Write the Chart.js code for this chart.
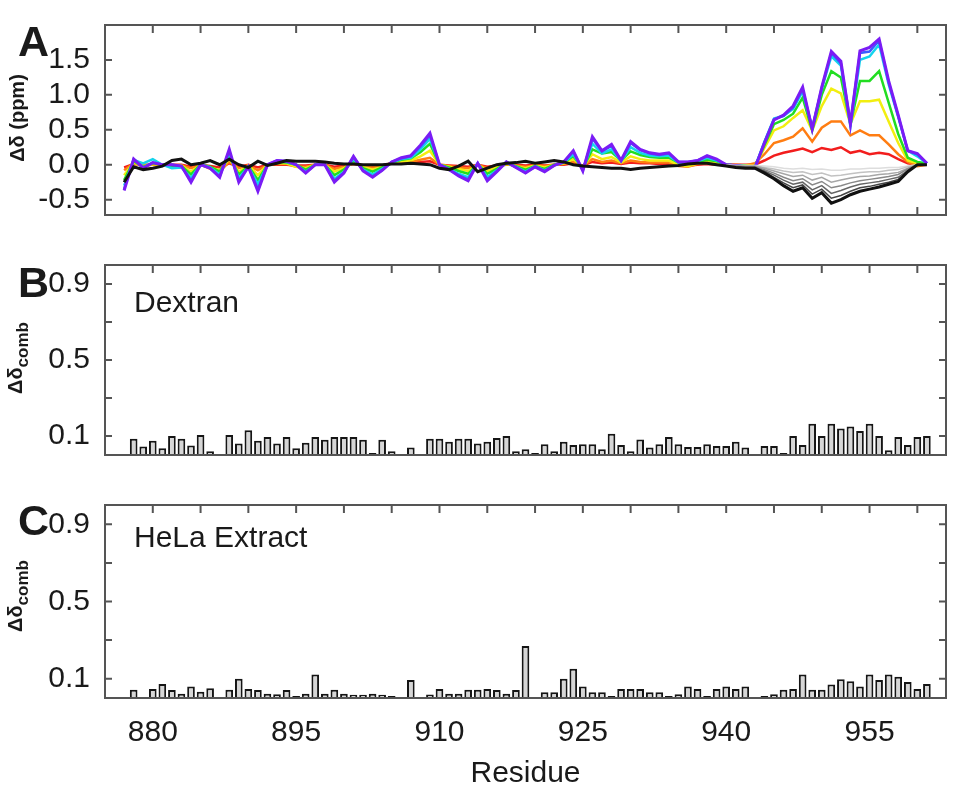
<!DOCTYPE html>
<html>
<head>
<meta charset="utf-8">
<script src="https://cdn.jsdelivr.net/npm/chart.js@4.4.1/dist/chart.umd.min.js"></script>
<style>
body { margin: 0; background: #fff; }
#wrap { position: relative; width: 954px; height: 786px; overflow: hidden; color: #1a1a1a;
        font-family: 'Liberation Sans Narrow', 'Liberation Sans', Arial, sans-serif; }
canvas { position: absolute; left: 0; }
.lbl { position: absolute; line-height: 1; white-space: nowrap; }
.panel { font-family: 'Liberation Sans', Arial, sans-serif; font-weight: bold; font-size: 43px; }
.ytitle { font-family: 'Liberation Sans', Arial, sans-serif; font-weight: bold; font-size: 20px;
          transform: translate(-50%, -50%) rotate(-90deg); }
.ytitle sub { font-size: 17px; vertical-align: -6px; }
.note { font-size: 30px; }
</style>
</head>
<body>
<div id="wrap">
  <canvas id="chartA" width="954" height="240" style="top:0"></canvas>
  <canvas id="chartB" width="954" height="240" style="top:240px"></canvas>
  <canvas id="chartC" width="954" height="306" style="top:480px"></canvas>

  <div class="lbl panel" style="left:18px;top:20px">A</div>
  <div class="lbl panel" style="left:18px;top:261px">B</div>
  <div class="lbl panel" style="left:18px;top:499px">C</div>

  <div class="lbl ytitle" style="left:17px;top:118px">Δδ (ppm)</div>
  <div class="lbl ytitle" style="left:18px;top:358px">Δδ<sub>comb</sub></div>
  <div class="lbl ytitle" style="left:18px;top:596px">Δδ<sub>comb</sub></div>

  <div class="lbl note" style="left:134px;top:287px">Dextran</div>
  <div class="lbl note" style="left:134px;top:522px">HeLa Extract</div>
</div>

<script>
// residues 877..961
const residues = Array.from({length: 85}, (_, i) => 877 + i);
const tailResidues = residues.slice(63); // 940..961

const residueTicks = [880, 885, 890, 895, 900, 905, 910, 915, 920, 925, 930, 935, 940, 945, 950, 955, 960];
const ppmTicks = [-0.5, 0.0, 0.5, 1.0, 1.5];
const combTicks = [0.1, 0.2, 0.3, 0.4, 0.5, 0.6, 0.7, 0.8, 0.9];
const combLabels = [0.1, 0.5, 0.9];

// ==========================
// Panel A: titration shifts
// ==========================
const purple = [
  -0.37, 0.08, -0.05, 0.03, 0.0, 0.0, -0.02, -0.25, 0.0, -0.05, -0.18,
  0.22, -0.25, -0.03, -0.38, 0.0, 0.06, 0.05, 0.0, -0.12, 0.0, 0.0,
  -0.25, -0.12, 0.12, -0.09, -0.18, -0.08, 0.04, 0.1, 0.13, 0.28, 0.45,
  0.0, -0.07, -0.16, -0.23, 0.02, -0.23, -0.1, 0.04, -0.04, -0.12, -0.03,
  -0.1, -0.01, 0.04, 0.2, -0.09, 0.4, 0.2, 0.29, 0.06, 0.33, 0.22,
  0.17, 0.15, 0.17, 0.04, 0.04, 0.06, 0.13, 0.08, 0.0, -0.01, -0.03,
  -0.05, 0.31, 0.64, 0.71, 0.84, 1.11, 0.51, 1.11, 1.62, 1.48, 0.58,
  1.63, 1.68, 1.8, 1.2, 0.71, 0.2, 0.16, 0.02
];
const blue = [
  -0.35, 0.08, -0.04, 0.03, 0.0, 0.0, -0.02, -0.23, 0.0, -0.05, -0.17,
  0.2, -0.23, -0.03, -0.35, 0.0, 0.06, 0.05, 0.0, -0.11, 0.0, 0.0,
  -0.23, -0.11, 0.11, -0.08, -0.17, -0.08, 0.04, 0.09, 0.12, 0.26, 0.42,
  0.0, -0.07, -0.15, -0.21, 0.02, -0.21, -0.09, 0.04, -0.04, -0.11, -0.03,
  -0.09, -0.01, 0.04, 0.19, -0.08, 0.37, 0.19, 0.27, 0.06, 0.31, 0.21,
  0.16, 0.14, 0.16, 0.04, 0.04, 0.06, 0.12, 0.07, 0.0, -0.01, -0.03,
  -0.04, 0.32, 0.65, 0.7, 0.82, 1.08, 0.52, 1.1, 1.6, 1.45, 0.6,
  1.6, 1.62, 1.78, 1.18, 0.7, 0.2, 0.15, 0.02
];
const cyan = [
  -0.3, 0.07, 0.02, 0.08, 0.0, -0.05, -0.04, -0.19, 0.0, -0.04, -0.14,
  0.16, -0.19, -0.03, -0.28, 0.0, 0.05, 0.04, 0.0, -0.1, 0.0, 0.0,
  -0.2, -0.1, 0.08, -0.07, -0.14, -0.06, 0.03, 0.08, 0.1, 0.22, 0.37,
  0.0, -0.06, -0.13, -0.18, 0.02, -0.18, -0.08, 0.03, -0.03, -0.1, -0.02,
  -0.08, -0.01, 0.03, 0.15, -0.07, 0.3, 0.16, 0.22, 0.05, 0.25, 0.17,
  0.13, 0.12, 0.13, 0.03, 0.03, 0.05, 0.1, 0.06, 0.0, -0.01, -0.02,
  -0.04, 0.33, 0.66, 0.7, 0.8, 1.05, 0.53, 1.08, 1.55, 1.42, 0.55,
  1.5, 1.55, 1.72, 1.15, 0.68, 0.2, 0.12, 0.02
];
const green = [
  -0.22, 0.05, -0.03, 0.02, 0.0, -0.02, -0.02, -0.14, 0.0, -0.03, -0.1,
  0.12, -0.14, -0.02, -0.22, 0.0, 0.04, 0.03, 0.0, -0.07, 0.0, 0.0,
  -0.15, -0.07, 0.06, -0.05, -0.1, -0.04, 0.03, 0.07, 0.09, 0.18, 0.3,
  0.0, -0.04, -0.09, -0.13, 0.01, -0.13, -0.06, 0.02, -0.02, -0.07, -0.02,
  -0.06, 0.0, 0.03, 0.12, -0.05, 0.22, 0.16, 0.18, 0.06, 0.19, 0.14,
  0.11, 0.1, 0.1, 0.03, 0.02, 0.04, 0.07, 0.05, 0.0, -0.01, -0.02,
  -0.03, 0.28, 0.58, 0.64, 0.73, 0.96, 0.49, 1.0, 1.34, 1.25, 0.58,
  1.2, 1.2, 1.34, 0.89, 0.44, 0.1, 0.04, 0.02
];
const yellow = [
  -0.15, 0.03, -0.02, 0.01, 0.0, -0.01, -0.01, -0.1, 0.0, -0.04, -0.08,
  0.08, -0.1, -0.01, -0.15, 0.0, 0.02, 0.02, -0.03, -0.05, 0.0, 0.0,
  -0.1, -0.05, 0.04, -0.03, -0.07, -0.03, 0.02, 0.05, 0.06, 0.12, 0.2,
  0.0, -0.03, -0.06, -0.09, 0.0, -0.09, -0.04, 0.01, -0.02, -0.05, -0.01,
  -0.04, 0.0, 0.02, 0.08, -0.03, 0.15, 0.08, 0.11, 0.03, 0.12, 0.08,
  0.06, 0.06, 0.06, 0.0, -0.02, 0.02, 0.04, 0.03, 0.0, -0.01, -0.01,
  -0.02, 0.24, 0.49, 0.55, 0.67, 0.78, 0.49, 0.84, 1.09, 1.02, 0.58,
  0.91, 0.91, 0.93, 0.62, 0.31, 0.06, 0.02, 0.0
];
const orange = [
  -0.08, 0.02, -0.01, 0.0, 0.0, -0.01, -0.01, -0.05, 0.0, -0.06, -0.1,
  0.04, -0.05, -0.01, -0.08, 0.0, 0.01, 0.01, -0.03, -0.03, 0.0, 0.0,
  -0.06, -0.03, 0.02, -0.02, -0.04, -0.02, 0.03, 0.04, 0.04, 0.07, 0.1,
  0.0, -0.02, -0.04, -0.05, 0.0, -0.05, -0.02, 0.01, -0.01, -0.03, -0.01,
  -0.02, 0.0, 0.01, 0.04, -0.02, 0.08, 0.04, 0.06, 0.02, 0.06, 0.04,
  0.03, 0.03, 0.03, -0.02, -0.03, 0.01, 0.02, 0.01, 0.0, 0.0, -0.01,
  0.02, 0.15, 0.31, 0.35, 0.4, 0.52, 0.33, 0.53, 0.62, 0.62, 0.42,
  0.49, 0.42, 0.42, 0.29, 0.15, 0.04, -0.02, 0.0
];
const red = [
  -0.04, 0.01, 0.0, 0.0, 0.0, 0.0, 0.0, -0.03, 0.0, -0.02, -0.04,
  0.02, -0.03, 0.0, -0.04, 0.0, 0.0, 0.0, -0.01, -0.01, 0.0, 0.0,
  -0.03, -0.01, 0.01, -0.01, -0.02, -0.01, 0.02, 0.03, 0.03, 0.04, 0.05,
  0.0, -0.01, -0.02, -0.03, 0.0, -0.03, -0.01, 0.0, 0.0, -0.01, 0.0,
  -0.01, 0.0, 0.0, 0.02, -0.01, 0.04, 0.02, 0.03, 0.01, 0.03, 0.02,
  0.02, 0.01, 0.01, -0.01, -0.01, 0.0, 0.01, 0.0, 0.0, 0.0, 0.0,
  0.0, 0.06, 0.13, 0.17, 0.2, 0.23, 0.18, 0.24, 0.21, 0.25, 0.17,
  0.2, 0.15, 0.17, 0.15, 0.08, 0.02, 0.0, 0.0
];
const black = [
  -0.25, -0.03, -0.07, -0.05, -0.02, 0.06, 0.08, 0.0, 0.02, 0.06, 0.0,
  0.08, 0.0, -0.04, 0.05, -0.01, 0.02, 0.06, 0.05, 0.05, 0.05, 0.04,
  0.02, 0.01, 0.01, 0.0, 0.0, 0.0, 0.01, 0.01, 0.02, 0.01, 0.0,
  -0.05, -0.07, -0.02, 0.05, -0.1, -0.05, 0.0, 0.02, 0.03, 0.05, 0.02,
  0.04, 0.06, 0.04, 0.0, -0.02, -0.03, -0.04, -0.05, -0.05, -0.07, -0.05,
  -0.04, -0.03, -0.02, -0.01, 0.01, 0.02, 0.02, 0.0, -0.02, -0.04, -0.05,
  -0.05, -0.12, -0.2, -0.3, -0.38, -0.33, -0.48, -0.4, -0.55, -0.5, -0.43,
  -0.38, -0.35, -0.32, -0.28, -0.24, -0.1, 0.0, 0.0
];
// grey steps, residues 940..961
const gray1 = [0.0, -0.01, -0.01, -0.01, -0.02, -0.03, -0.05, -0.06, -0.05, -0.07, -0.06, -0.08, -0.08, -0.06, -0.06, -0.05, -0.05, -0.04, -0.04, -0.02, 0.0, 0.0];
const gray2 = [-0.01, -0.01, -0.02, -0.02, -0.04, -0.06, -0.09, -0.11, -0.1, -0.14, -0.12, -0.16, -0.15, -0.13, -0.11, -0.1, -0.1, -0.08, -0.07, -0.03, 0.0, 0.0];
const gray3 = [-0.01, -0.02, -0.02, -0.02, -0.05, -0.09, -0.13, -0.17, -0.15, -0.22, -0.18, -0.25, -0.22, -0.19, -0.17, -0.16, -0.14, -0.13, -0.11, -0.05, 0.0, 0.0];
const gray4 = [-0.01, -0.02, -0.03, -0.03, -0.07, -0.12, -0.18, -0.23, -0.2, -0.29, -0.24, -0.33, -0.3, -0.26, -0.23, -0.21, -0.19, -0.17, -0.14, -0.06, 0.0, 0.0];
const gray5 = [-0.02, -0.03, -0.04, -0.04, -0.09, -0.15, -0.22, -0.28, -0.25, -0.36, -0.3, -0.41, -0.37, -0.32, -0.28, -0.26, -0.24, -0.21, -0.18, -0.08, 0.0, 0.0];
const gray6 = [-0.02, -0.04, -0.04, -0.04, -0.1, -0.18, -0.26, -0.33, -0.29, -0.42, -0.35, -0.48, -0.44, -0.38, -0.33, -0.31, -0.28, -0.25, -0.21, -0.09, 0.0, 0.0];

// ==========================
// Panels B / C: combined shifts (null = no bar)
// ==========================
const dextran = [
  null, 0.085, 0.045, 0.075, 0.035, 0.1, 0.085, 0.05, 0.105, 0.02, null,
  0.105, 0.06, 0.13, 0.075, 0.095, 0.06, 0.095, 0.035, 0.065, 0.095, 0.08,
  0.095, 0.095, 0.095, 0.08, 0.01, 0.08, 0.02, null, 0.04, 0.005, 0.085,
  0.085, 0.07, 0.085, 0.085, 0.06, 0.07, 0.09, 0.1, 0.02, 0.03, 0.01,
  0.056, 0.02, 0.07, 0.053, 0.056, 0.056, 0.03, 0.112, 0.053, 0.02, 0.082,
  0.04, 0.056, 0.095, 0.056, 0.042, 0.042, 0.056, 0.048, 0.048, 0.07, 0.04,
  null, 0.047, 0.047, 0.01, 0.1, 0.053, 0.165, 0.1, 0.165, 0.14, 0.15,
  0.126, 0.165, 0.1, 0.025, 0.095, 0.053, 0.095, 0.1
];
const hela = [
  null, 0.043, null, 0.047, 0.072, 0.042, 0.022, 0.06, 0.033, 0.05, null,
  0.043, 0.1, 0.047, 0.042, 0.022, 0.02, 0.042, 0.01, 0.022, 0.122, 0.022,
  0.043, 0.022, 0.017, 0.017, 0.022, 0.017, 0.01, null, 0.093, null, 0.018,
  0.047, 0.022, 0.022, 0.043, 0.043, 0.047, 0.042, 0.022, 0.042, 0.27, 0.005,
  0.03, 0.03, 0.1, 0.152, 0.06, 0.03, 0.03, 0.01, 0.047, 0.047, 0.047,
  0.03, 0.03, 0.01, 0.02, 0.06, 0.047, 0.01, 0.047, 0.06, 0.047, 0.06,
  null, 0.01, 0.02, 0.043, 0.047, 0.122, 0.043, 0.043, 0.07, 0.097, 0.087,
  0.06, 0.122, 0.093, 0.122, 0.11, 0.083, 0.047, 0.072
];

const tickFont = {family: "'Liberation Sans Narrow','Liberation Sans',Arial,sans-serif", size: 30};
const textColor = '#1a1a1a';

function points(xs, ys) {
  return ys.map((v, i) => ({x: xs[i], y: v})).filter(p => p.y !== null);
}

// box + inward tick marks (IDL style)
const frame = {
  id: 'frame',
  afterDatasetsDraw(chart, args, opts) {
    const {ctx, chartArea: a} = chart;
    const x = chart.scales.x, y = chart.scales.y;
    ctx.save();
    ctx.strokeStyle = '#555';
    ctx.lineWidth = 2;
    ctx.beginPath();
    x.ticks.forEach(t => {
      const px = x.getPixelForValue(t.value);
      ctx.moveTo(px, a.top); ctx.lineTo(px, a.top + 8);
      if (opts.bottomTicks) { ctx.moveTo(px, a.bottom); ctx.lineTo(px, a.bottom - 8); }
    });
    y.ticks.forEach(t => {
      const py = y.getPixelForValue(t.value);
      ctx.moveTo(a.left, py); ctx.lineTo(a.left + 7, py);
      ctx.moveTo(a.right, py); ctx.lineTo(a.right - 7, py);
    });
    ctx.stroke();
    ctx.strokeRect(a.left, a.top, a.right - a.left, a.bottom - a.top);
    ctx.restore();
  }
};

function xAxis(height, showLabels) {
  return {
    type: 'linear', min: 875, max: 963, offset: false,
    afterBuildTicks: s => { s.ticks = residueTicks.map(v => ({value: v})); },
    afterFit: s => { s.height = height; },
    grid: {display: false}, border: {display: false},
    ticks: {
      display: showLabels, font: tickFont, color: textColor, padding: 9,
      autoSkip: false, maxRotation: 0,
      callback: v => ((v - 880) % 15 === 0 ? String(v) : '')
    },
    title: {
      display: showLabels, text: 'Residue', color: textColor,
      font: {family: tickFont.family, size: 30, lineHeight: 1}, padding: {top: 0, bottom: -3}
    }
  };
}

function baseOptions(top, xHeight, showLabels, yScale, bottomTicks) {
  return {
    responsive: false, animation: false, events: [],
    layout: {padding: {top: top, right: 8, left: 0, bottom: 0}},
    plugins: {legend: {display: false}, tooltip: {enabled: false}, frame: {bottomTicks: bottomTicks}},
    scales: {x: xAxis(xHeight, showLabels), y: yScale}
  };
}

// ==========================
// Panel A
// ==========================
const lineSets = [
  {data: points(residues, black), borderColor: '#111111', borderWidth: 3},
  {data: points(tailResidues, gray6), borderColor: '#444444', borderWidth: 1.5},
  {data: points(tailResidues, gray5), borderColor: '#666666', borderWidth: 1.5},
  {data: points(tailResidues, gray4), borderColor: '#888888', borderWidth: 1.5},
  {data: points(tailResidues, gray3), borderColor: '#a6a6a6', borderWidth: 1.5},
  {data: points(tailResidues, gray2), borderColor: '#c2c2c2', borderWidth: 1.5},
  {data: points(tailResidues, gray1), borderColor: '#dddddd', borderWidth: 1.5},
  {data: points(residues, purple), borderColor: '#7a1cf5', borderWidth: 3},
  {data: points(residues, blue), borderColor: '#3a5cff', borderWidth: 2.5},
  {data: points(residues, cyan), borderColor: '#14d4ec', borderWidth: 2.5},
  {data: points(residues, green), borderColor: '#22dd22', borderWidth: 2.5},
  {data: points(residues, yellow), borderColor: '#f2ee10', borderWidth: 2.5},
  {data: points(residues, orange), borderColor: '#ff7d12', borderWidth: 2.5},
  {data: points(residues, red), borderColor: '#f21d1d', borderWidth: 2.5}
];
lineSets.forEach(d => { d.pointRadius = 0; d.tension = 0; d.fill = false; });

new Chart(document.getElementById('chartA'), {
  type: 'line',
  data: {datasets: lineSets},
  options: baseOptions(14, 23, false, {
    min: -0.72, max: 2.0,
    afterBuildTicks: s => { s.ticks = ppmTicks.map(v => ({value: v})); },
    afterFit: s => { s.width = 105; },
    grid: {display: false}, border: {display: false},
    ticks: {font: tickFont, color: textColor, padding: 7, callback: v => v.toFixed(1)}
  }, true),
  plugins: [frame]
});

// ==========================
// Panels B and C
// ==========================
function combAxis() {
  return {
    min: 0, max: 1.0,
    afterBuildTicks: s => { s.ticks = combTicks.map(v => ({value: v})); },
    afterFit: s => { s.width = 105; },
    grid: {display: false}, border: {display: false},
    ticks: {
      font: tickFont, color: textColor, padding: 7,
      callback: v => (combLabels.some(t => Math.abs(t - v) < 1e-6) ? v.toFixed(1) : '')
    }
  };
}

function barSet(values) {
  return {
    data: points(residues, values),
    backgroundColor: '#d6d6d6', borderColor: '#151515', borderWidth: 2,
    barPercentage: 0.8, categoryPercentage: 1, borderSkipped: 'start'
  };
}

new Chart(document.getElementById('chartB'), {
  type: 'bar',
  data: {datasets: [barSet(dextran)]},
  options: baseOptions(16, 24, false, combAxis(), false),
  plugins: [frame]
});

new Chart(document.getElementById('chartC'), {
  type: 'bar',
  data: {datasets: [barSet(hela)]},
  options: baseOptions(17, 88, true, combAxis(), false),
  plugins: [frame]
});
</script>
</body>
</html>
